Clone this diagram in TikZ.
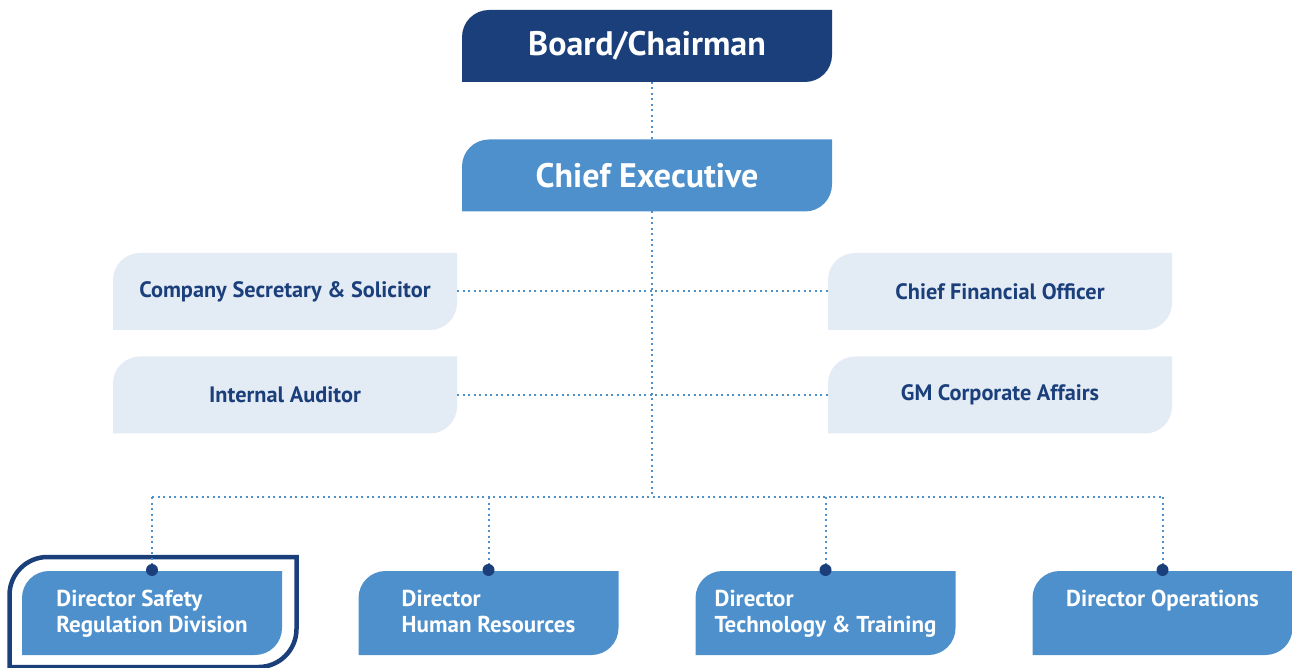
\documentclass[tikz,border=0pt]{standalone}
\usepackage{fontspec}
\setmainfont{PT Sans}
\usetikzlibrary{positioning}
\definecolor{navy}{HTML}{1B3F7B}
\definecolor{midblue}{HTML}{4E90CC}
\definecolor{paleblue}{HTML}{E3EBF5}
\tikzset{
  leaf/.style={inner sep=0pt, outer sep=0pt,
    path picture={\fill[#1] ([yshift=-27pt]path picture bounding box.north west)
      arc[start angle=180, end angle=90, radius=27pt] -- (path picture bounding box.north east)
      -- ([yshift=27pt]path picture bounding box.south east)
      arc[start angle=0, end angle=-90, radius=27pt] -- (path picture bounding box.south west) -- cycle;}},
  headbox/.style={leaf=#1, minimum width=370pt, minimum height=72pt, text=white,
    font=\bfseries\fontsize{34}{40}\selectfont},
  staffbox/.style={leaf=paleblue, minimum width=344pt, minimum height=77pt, text=navy,
    font=\bfseries\fontsize{22.3}{26}\selectfont},
  dirbox/.style={leaf=midblue, minimum width=260pt, minimum height=84pt},
  dirtext/.style={anchor=north, align=left, inner sep=0pt, text=white,
    font=\bfseries\fontsize{23}{26}\selectfont},
  link/.style={midblue, line width=2pt, dash pattern=on 2pt off 3.5pt}
}
\begin{document}
\begin{tikzpicture}[x=1pt, y=1pt]
\useasboundingbox (0,0) rectangle (1292,667);

% top of the chart
\node[headbox=navy] (board) at (647,621) {\raisebox{-2pt}{Board/Chairman}};
\node[headbox=midblue] (ceo) at (647,491.5) {Chief Executive};

% staff functions
\node[staffbox] (sec) at (285,375.5) {Company Secretary \& Solicitor};
\node[staffbox] (audit) at (285,272) {Internal Auditor};
\node[staffbox] (cfo) at (1000,375.5) {Chief Financial Officer};
\node[staffbox] (gm) at (1000,272) {GM Corporate Affairs};

% directors
\node[dirbox] (dsr) at (152,54) {};
\node[dirbox] (dhr) at (488.5,54) {};
\node[dirbox] (dtt) at (825.5,54) {};
\node[dirbox] (dops) at (1162.5,54) {};
\node[dirtext] (dsrtext) at ([yshift=-19pt]dsr.north) {Director Safety\\Regulation Division};
\node[dirtext] (dhrtext) at ([yshift=-19pt]dhr.north) {Director\\Human Resources};
\node[dirtext] (dtttext) at ([yshift=-19pt]dtt.north) {Director\\Technology \& Training};
\node[dirtext] (dopstext) at ([yshift=-19pt]dops.north) {Director Operations};

% highlight round the safety division
\draw[navy, line width=4.5pt] ([xshift=-12.5pt, yshift=-12pt]dsr.south west)
  -- ([xshift=-12.5pt, yshift=-24pt]dsr.north west)
  arc[start angle=180, end angle=90, radius=38pt]
  -- ([xshift=14.5pt, yshift=14pt]dsr.north east)
  -- ([xshift=14.5pt, yshift=26pt]dsr.south east)
  arc[start angle=0, end angle=-90, radius=38pt] -- cycle;

% dotted lines
\coordinate (spine) at (652,170);
\draw[link] (spine |- board.south) -- (spine |- ceo.north);
\draw[link] (spine |- ceo.south) -- (spine);
\draw[link] (sec.east) -- (cfo.west);
\draw[link] (audit.east) -- (gm.west);
\draw[link] (dsr.north |- spine) -- (dops.north |- spine);
\foreach \n in {dsr,dhr,dtt,dops}{
  \draw[link] (\n.north |- spine) -- (\n.north);
  \fill[navy] ([yshift=1pt]\n.north) circle (6pt);
}
\end{tikzpicture}
\end{document}
